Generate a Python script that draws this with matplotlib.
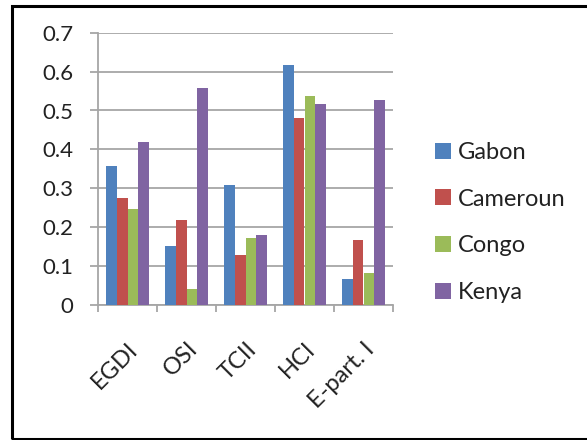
import matplotlib
matplotlib.use("Agg")
import matplotlib.pyplot as plt
import numpy as np
from matplotlib.patches import Rectangle

categories = ["EGDI", "OSI", "TCII", "HCI", "E-part. I"]
series_names = ["Gabon", "Cameroun", "Congo", "Kenya"]
gabon = [0.357, 0.152, 0.308, 0.617, 0.067]
cameroun = [0.276, 0.219, 0.129, 0.482, 0.167]
congo = [0.248, 0.040, 0.171, 0.536, 0.082]
kenya = [0.419, 0.559, 0.179, 0.516, 0.528]
colors = ["#4F81BD", "#C0504D", "#9BBB59", "#8064A2"]

plt.rcParams['font.family'] = ['Lato', 'DejaVu Sans']
text_color = "#222222"

W, H = 587, 440
fig = plt.figure(figsize=(W / 100, H / 100), dpi=100)

# outer border
fig.patches.append(Rectangle((12 / W, 1 - 439 / H), (W + 5 - 12) / W, (439 - 6) / H,
                             transform=fig.transFigure, fill=False,
                             edgecolor="black", linewidth=2.2, zorder=0))

ax = fig.add_axes([98 / W, 1 - 305 / H, (393 - 98) / W, (305 - 32.7) / H])

x = np.arange(len(categories))
bw = 1 / 5.6
data = [gabon, cameroun, congo, kenya]
for i, (vals, name, c) in enumerate(zip(data, series_names, colors)):
    ax.bar(x + (i - 1.5) * bw, vals, width=bw, color=c, label=name, zorder=3)

ax.set_xlim(-0.5, len(categories) - 0.5)
ax.set_ylim(0, 0.7)
ax.set_yticks(np.arange(0, 0.71, 0.1))
ax.set_yticklabels(["0"] + [f"{v:.1f}" for v in np.arange(0.1, 0.71, 0.1)],
                   fontsize=16, color=text_color)
ax.yaxis.grid(True, color="#A6A6A6", linewidth=1.3, zorder=0)
ax.set_axisbelow(True)

for s in ["top", "right"]:
    ax.spines[s].set_visible(False)
for s in ["left", "bottom"]:
    ax.spines[s].set_color("#A6A6A6")
    ax.spines[s].set_linewidth(1.3)

ax.set_xticks(np.arange(-0.5, len(categories)), minor=False)
ax.set_xticklabels([])
ax.set_xticks(x, minor=True)
ax.set_xticklabels(categories, minor=True, rotation=45, ha="right",
                   rotation_mode="anchor", fontsize=17, color=text_color)
ax.tick_params(axis="x", which="major", length=5, color="#A6A6A6", width=1.3)
ax.tick_params(axis="x", which="minor", length=0, pad=24)
ax.tick_params(axis="y", length=5.5, color="#A6A6A6", width=1.3, pad=12)

leg = fig.legend(loc="center left", bbox_to_anchor=(435 / W, 1 - 222.5 / H),
                 frameon=False, fontsize=17, handlelength=0.68, handleheight=0.68,
                 labelspacing=1.09, handletextpad=0.3, borderpad=0, borderaxespad=0)
for t in leg.get_texts():
    t.set_color(text_color)

fig.savefig("out.png", dpi=100)
